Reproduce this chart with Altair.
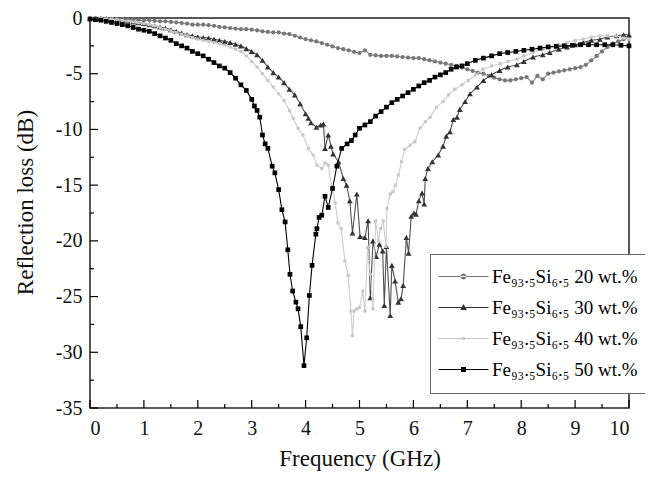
import altair as alt
import pandas as pd

# ---------------- data ----------------
SERIES = [
    "Fe\u2089\u2083.\u2085Si\u2086.\u2085 20 wt.%",
    "Fe\u2089\u2083.\u2085Si\u2086.\u2085 30 wt.%",
    "Fe\u2089\u2083.\u2085Si\u2086.\u2085 40 wt.%",
    "Fe\u2089\u2083.\u2085Si\u2086.\u2085 50 wt.%",
]

freq_20 = [round(i * 0.1, 1) for i in range(101)]
rl_20 = [0.0, 0.0, -0.05, -0.05, -0.1, -0.1, -0.1, -0.15, -0.15, -0.2,
         -0.2, -0.2, -0.25, -0.3, -0.3, -0.35, -0.4, -0.45, -0.5, -0.6,
         -0.6, -0.6, -0.65, -0.7, -0.8, -0.85, -0.9, -0.95, -1.0, -1.0,
         -1.05, -1.1, -1.2, -1.25, -1.3, -1.3, -1.4, -1.45, -1.6, -1.75,
         -1.9, -2.0, -2.1, -2.25, -2.4, -2.55, -2.7, -2.8, -2.9, -3.05,
         -3.15, -2.9, -3.3, -3.35, -3.4, -3.4, -3.4, -3.45, -3.5, -3.55,
         -3.6, -3.6, -3.7, -3.8, -3.9, -4.0, -4.1, -4.2, -4.3, -4.45,
         -4.6, -4.75, -4.9, -5.0, -5.2, -5.35, -5.5, -5.6, -5.6, -5.5,
         -5.4, -5.3, -5.8, -5.2, -5.5, -5.0, -4.9, -4.8, -4.7, -4.6,
         -4.5, -4.4, -4.2, -3.8, -3.4, -3.0, -2.6, -2.3, -2.1, -1.9, -1.8]

freq_30 = [round(i * 0.1, 1) for i in range(31)] + [
    3.1, 3.2, 3.3, 3.4, 3.5, 3.6, 3.7, 3.8, 3.9, 4.0,
    4.05, 4.1, 4.2, 4.28, 4.33, 4.36, 4.42, 4.47, 4.51, 4.61,
    4.7, 4.76, 4.82, 4.87, 4.95, 5.01, 5.1, 5.16, 5.2, 5.25,
    5.31, 5.37, 5.43, 5.46, 5.5, 5.57, 5.6, 5.66, 5.72, 5.77,
    5.81, 5.87, 5.91, 5.96, 6.01, 6.05, 6.1, 6.16, 6.2, 6.22,
    6.27, 6.35, 6.46, 6.55, 6.61, 6.68, 6.74, 6.81, 6.86, 6.96,
    7.05, 7.18, 7.3, 7.45, 7.6, 7.75, 7.92, 8.05, 8.22, 8.4,
    8.53, 8.7, 8.85, 9.0, 9.15, 9.3, 9.46, 9.6, 9.77, 9.9, 10.0]
rl_30 = [0.0, -0.02, -0.05, -0.07, -0.1, -0.15, -0.2, -0.27, -0.35, -0.42,
         -0.5, -0.6, -0.7, -0.8, -0.9, -1.05, -1.2, -1.35, -1.5, -1.6,
         -1.7, -1.75, -1.8, -1.9, -2.0, -2.1, -2.2, -2.35, -2.5, -2.75, -3.0,
         -3.3, -3.8, -4.4, -4.9, -5.3, -5.8, -6.4, -6.9, -7.7, -8.6,
         -9.0, -9.4, -9.8, -9.6, -9.5, -11.7, -10.5, -11.5, -12.2, -12.9,
         -14.4, -15.0, -16.4, -19.3, -15.8, -19.6, -19.7, -18.2, -25.1, -20.0,
         -21.4, -20.3, -20.9, -25.8, -20.5, -26.7, -22.2, -23.6, -25.5, -25.2,
         -24.0, -19.7, -21.1, -17.8, -17.5, -17.6, -16.4, -15.7, -16.7, -14.4,
         -13.5, -12.9, -12.3, -11.5, -10.6, -10.2, -9.1, -8.9, -8.2, -7.5,
         -6.8, -6.2, -5.6, -5.1, -4.7, -4.4, -4.2, -3.9, -3.5, -3.3,
         -3.1, -2.8, -2.6, -2.4, -2.2, -2.0, -1.9, -1.7, -1.6, -1.5, -1.5]

freq_40 = [round(i * 0.1, 1) for i in range(29)] + [
    2.9, 3.0, 3.1, 3.2, 3.3, 3.4, 3.5, 3.6, 3.7, 3.77,
    3.86, 3.95, 4.05, 4.14, 4.21, 4.3, 4.36, 4.42, 4.49, 4.55,
    4.6, 4.66, 4.73, 4.79, 4.84, 4.87, 4.9, 4.95, 5.0, 5.06,
    5.1, 5.15, 5.2, 5.25, 5.3, 5.35, 5.39, 5.44, 5.49, 5.51,
    5.57, 5.62, 5.67, 5.72, 5.78, 5.84, 5.94, 6.03, 6.12, 6.22,
    6.31, 6.43, 6.55, 6.65, 6.77, 6.9, 7.02, 7.15, 7.29, 7.45,
    7.61, 7.75, 7.92, 8.05, 8.22, 8.4, 8.53, 8.7, 8.85, 9.0,
    9.15, 9.3, 9.46, 9.6, 9.77, 9.9, 10.0]
rl_40 = [0.0, -0.02, -0.05, -0.08, -0.1, -0.15, -0.2, -0.27, -0.35, -0.42,
         -0.5, -0.6, -0.7, -0.85, -1.0, -1.15, -1.3, -1.45, -1.6, -1.75,
         -1.9, -2.0, -2.1, -2.2, -2.3, -2.45, -2.6, -2.8, -3.0,
         -3.4, -3.9, -4.4, -5.0, -5.6, -6.2, -6.8, -7.4, -8.3, -9.0,
         -9.9, -10.5, -11.7, -12.3, -13.2, -13.5, -13.0, -13.2, -15.3, -16.6,
         -18.4, -18.9, -21.8, -23.1, -26.3, -28.5, -26.3, -26.1, -26.0, -24.5,
         -26.3, -20.6, -23.0, -26.1, -18.2, -20.0, -18.9, -18.2, -20.5, -17.1,
         -15.8, -15.6, -15.0, -14.1, -12.9, -11.8, -11.4, -11.1, -9.9, -9.3,
         -8.9, -8.0, -7.5, -6.9, -6.4, -6.0, -5.6, -5.1, -4.6, -4.3,
         -4.1, -3.9, -3.7, -3.4, -3.1, -2.8, -2.6, -2.4, -2.2, -2.0,
         -1.9, -1.7, -1.6, -1.6, -1.6, -1.8, -1.9]

freq_50 = [round(i * 0.1, 1) for i in range(31)] + [
    3.05, 3.1, 3.15, 3.2, 3.25, 3.3,
    3.38, 3.43, 3.5, 3.56, 3.62, 3.67, 3.71, 3.76, 3.82, 3.86, 3.91, 3.97,
    4.02, 4.07, 4.12, 4.19, 4.21, 4.25, 4.3, 4.36, 4.42, 4.5, 4.58, 4.67,
    4.77, 4.85, 4.92] + [round(5.0 + i * 0.1, 1) for i in range(21)] + [
    7.15, 7.3, 7.45, 7.6, 7.75, 7.9, 8.05, 8.2, 8.35, 8.5,
    8.65, 8.8, 8.95, 9.1, 9.25, 9.4, 9.55, 9.7, 9.85, 10.0]
rl_50 = [-0.1, -0.15, -0.2, -0.3, -0.4, -0.5, -0.6, -0.7, -0.85, -1.0,
         -1.1, -1.2, -1.4, -1.6, -1.8, -2.0, -2.3, -2.5, -2.7, -3.0,
         -3.2, -3.4, -3.7, -4.0, -4.3, -4.5, -4.9, -5.4, -6.0, -6.5, -7.3,
         -7.9, -8.3, -8.9, -10.5, -11.3, -11.7,
         -13.3, -13.9, -15.4, -17.2, -18.3, -20.8, -23.0, -24.5, -25.5, -26.1, -27.7, -31.2,
         -28.7, -24.9, -22.2, -19.4, -18.9, -17.9, -17.7, -16.0, -17.0, -15.3, -13.3, -11.7,
         -11.3, -11.0, -10.5,
         -9.9, -9.6, -9.3, -8.8, -8.4, -8.0, -7.6, -7.3, -7.0, -6.7,
         -6.4, -6.1, -5.8, -5.6, -5.3, -5.1, -4.9, -4.6, -4.4, -4.3, -4.1,
         -3.8, -3.6, -3.4, -3.2, -3.1, -3.0, -2.9, -2.8, -2.7, -2.6,
         -2.55, -2.5, -2.45, -2.4, -2.4, -2.4, -2.4, -2.4, -2.45, -2.5]

y_major = [0, -5, -10, -15, -20, -25, -30, -35]
y_minor = [-2.5, -7.5, -12.5, -17.5, -22.5, -27.5, -32.5]
x_major = [0, 1, 2, 3, 4, 5, 6, 7, 8, 9, 10]
x_minor = [0.5, 1.5, 2.5, 3.5, 4.5, 5.5, 6.5, 7.5, 8.5, 9.5]

# ---------------- styling ----------------
LINE_COLORS = ["#7d7d7d", "#505050", "#cdcdcd", "#000000"]
MARK_COLORS = ["#777777", "#333333", "#c8c8c8", "#000000"]
SHAPES = ["circle", "triangle-up", "square", "square"]
SIZES = [18, 34, 10, 22]

LEGEND_PATHS = [
    "M-5,-0.12H5V0.12H-5Z M-0.6,0A0.6,0.6,0,1,0,0.6,0A0.6,0.6,0,1,0,-0.6,0Z",
    "M-5,-0.12H5V0.12H-5Z M0,-0.7L0.68,0.5L-0.68,0.5Z",
    "M-5,-0.12H5V0.12H-5Z M-0.32,-0.32H0.32V0.32H-0.32Z",
    "M-5,-0.12H5V0.12H-5Z M-0.5,-0.5H0.5V0.5H-0.5Z",
]

FONT = "Liberation Serif"

rows = []
for name, fs, vs in zip(SERIES, [freq_20, freq_30, freq_40, freq_50],
                        [rl_20, rl_30, rl_40, rl_50]):
    if len(fs) != len(vs):
        raise ValueError(f"length mismatch for {name}: {len(fs)} vs {len(vs)}")
    for f, v in zip(fs, vs):
        rows.append({"series": name, "f": f, "rl": v})
df = pd.DataFrame(rows)

PLOT_H = 390


def X():
    return alt.X("f:Q", scale=alt.Scale(domain=[0, 10], nice=False, zero=False),
                 axis=alt.Axis(values=x_major, title="Frequency (GHz)",
                               labelExpr="datum.value + ''",
                               labelFont=FONT, titleFont=FONT,
                               labelFontSize=20, titleFontSize=23,
                               labelPadding=10, titleX=269.5, titleY=57,
                               titleBaseline="alphabetic"))


def Y():
    return alt.Y("rl:Q", scale=alt.Scale(domain=[-35, 0], nice=False, zero=False),
                 axis=alt.Axis(values=y_major, title="Reflection loss (dB)",
                               labelExpr="datum.value + ''",
                               labelFont=FONT, titleFont=FONT,
                               labelFontSize=20, titleFontSize=23,
                               labelPadding=8, titleX=-58, titleY=184,
                               titleAngle=-90, titleAlign="center",
                               titleBaseline="alphabetic"))


layers = []

# inward ticks
layers.append(alt.Chart(pd.DataFrame({"rl": y_major})).mark_rule(color="black", strokeWidth=1.2)
              .encode(y=Y(), x=alt.value(0), x2=alt.value(8)))
layers.append(alt.Chart(pd.DataFrame({"rl": y_minor})).mark_rule(color="black", strokeWidth=1.2)
              .encode(y=Y(), x=alt.value(0), x2=alt.value(4)))
layers.append(alt.Chart(pd.DataFrame({"f": x_major})).mark_rule(color="black", strokeWidth=1.2)
              .encode(x=X(), y=alt.value(PLOT_H), y2=alt.value(PLOT_H - 8)))
layers.append(alt.Chart(pd.DataFrame({"f": x_minor})).mark_rule(color="black", strokeWidth=1.2)
              .encode(x=X(), y=alt.value(PLOT_H), y2=alt.value(PLOT_H - 4)))

base = alt.Chart(df)
for name, lc, mc, shp, sz in zip(SERIES, LINE_COLORS, MARK_COLORS, SHAPES, SIZES):
    sub = base.transform_filter(alt.FieldEqualPredicate(field="series", equal=name))
    layers.append(sub.mark_line(color=lc, strokeWidth=1.1)
                  .encode(x=X(), y=Y(), order="f:Q"))
    layers.append(sub.mark_point(shape=shp, filled=True, size=sz, color=mc, opacity=1)
                  .encode(x=X(), y=Y()))

# legend-only layer (points lie outside the domain and are clipped)
legend_df = pd.DataFrame({"series": SERIES, "f": [-1] * 4, "rl": [1] * 4})
leg = alt.Legend(orient="none", legendX=340, legendY=236, title=None,
                 padding=13, strokeColor="#666666", fillColor="white",
                 labelFont=FONT, labelFontSize=19, labelColor="black",
                 symbolStrokeWidth=0, symbolSize=100, symbolOffset=11,
                 labelOffset=19, rowPadding=11, labelLimit=400)
layers.append(alt.Chart(legend_df).mark_point(filled=True, size=100, clip=True, opacity=1)
              .encode(x=X(), y=Y(),
                      color=alt.Color("series:N", sort=SERIES,
                                      scale=alt.Scale(domain=SERIES, range=MARK_COLORS),
                                      legend=leg),
                      shape=alt.Shape("series:N", sort=SERIES,
                                      scale=alt.Scale(domain=SERIES, range=LEGEND_PATHS),
                                      legend=leg)))

chart = (alt.layer(*layers)
         .properties(width=539, height=PLOT_H,
                     autosize=alt.AutoSizeParams(type="none"),
                     padding={"left": 82, "top": 10, "right": 16, "bottom": 64},
                     background="white")
         .configure(font=FONT)
         .configure_view(stroke="#222222", strokeWidth=1.5)
         .configure_axis(labelFont=FONT, labelFontSize=20, labelColor="#111111",
                         titleFont=FONT, titleFontSize=23, titleFontWeight="normal",
                         titleColor="#111111", ticks=False, tickSize=0, domain=False,
                         grid=False))

chart.save("out.html", embed_options={"renderer": "svg", "actions": False})
